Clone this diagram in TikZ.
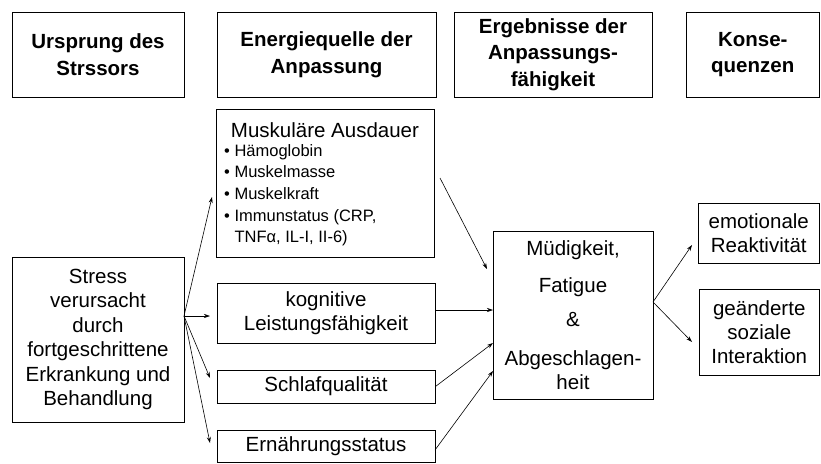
\documentclass[tikz,border=0pt]{standalone}
\usepackage{fontspec}
\setmainfont{Liberation Sans}
\usetikzlibrary{arrows.meta}
\begin{document}
\begin{tikzpicture}[x=1pt,y=-1pt,
  box/.style={draw, line width=0.9pt, inner sep=0pt, align=center},
  hdr/.style={box, minimum height=85pt, font=\bfseries\fontsize{20.5}{26.5}\selectfont},
  body/.style={font=\fontsize{20.5}{24.5}\selectfont},
  arr/.style={-{Stealth[length=6pt,width=4pt]}, line width=0.6pt}]
\useasboundingbox (0,0) rectangle (821,463);
% headers
\node[hdr, minimum width=172pt] (h1) at (98,54.5) {Ursprung des\\Strssors};
\node[hdr, minimum width=219pt] (h2) at (326.5,54.5) {Energiequelle der\\Anpassung};
\node[hdr, minimum width=198pt] (h3) at (553,54.5) {Ergebnisse der\\Anpassungs-\\fähigkeit};
\node[hdr, minimum width=133.5pt] (h4) at (752.75,54.5) {Konse-\\quenzen};
% body boxes
\node[box, body, minimum width=172pt, minimum height=165pt] (stress) at (98,339.5)
  {Stress\\verursacht\\durch\\fortgeschrittene\\Erkrankung und\\Behandlung};
\node[box, minimum width=218pt, minimum height=148pt] (musk) at (325,183) {};
\node[body, inner sep=0pt] (muskT) at (325,130) {Muskuläre Ausdauer};
\node[anchor=north west, inner sep=0pt, align=left, font=\fontsize{16.5}{21.7}\selectfont] (muskL) at (224,144)
  {• Hämoglobin\\• Muskelmasse\\• Muskelkraft\\• Immunstatus (CRP,\\\phantom{•}~TNFα, IL-I, II-6)};
\node[box, body, minimum width=218pt, minimum height=60pt] (kog) at (326,313) {kognitive\\Leistungsfähigkeit};
\node[box, body, minimum width=218pt, minimum height=33pt] (schlaf) at (326,386.5) {Schlafqualität};
\node[box, body, minimum width=218pt, minimum height=32pt] (ern) at (326,446) {Ernährungsstatus};
\node[box, font=\fontsize{20.5}{23.5}\selectfont, minimum width=160pt, minimum height=168pt] (mued) at (573,315)
  {Müdigkeit,\\[14pt]Fatigue\\[10pt]\&\\[16pt]Abgeschlagen-\\heit};
\node[box, font=\fontsize{20.5}{23.5}\selectfont, minimum width=121.5pt, minimum height=60pt] (emo) at (758.75,233) {emotionale\\Reaktivität};
\node[box, font=\fontsize{20.5}{24}\selectfont, minimum width=120.5pt, minimum height=86pt] (soz) at (759.25,332) {geänderte\\soziale\\Interaktion};
% connector points
\coordinate (s0) at (184,316);
\coordinate (tM) at (212,197);
\coordinate (tK) at (210,316);
\coordinate (tS) at (210,378);
\coordinate (tE) at (210,443);
\coordinate (mS) at (440,178);
\coordinate (mT) at (487,269);
\coordinate (kS) at (435,310);
\coordinate (kT) at (493,310);
\coordinate (sT) at (493,343);
\coordinate (eS) at (435,450);
\coordinate (eT) at (493,371);
\coordinate (q0) at (653,302);
\coordinate (qE) at (692,245);
\coordinate (qS) at (692,342);
% arrows
\draw[arr] (s0) -- (tM);
\draw[arr] (s0) -- (tK);
\draw[arr] (s0) -- (tS);
\draw[arr] (s0) -- (tE);
\draw[arr] (mS) -- (mT);
\draw[arr] (kS) -- (kT);
\draw[arr] (schlaf.east) -- (sT);
\draw[arr] (eS) -- (eT);
\draw[arr] (q0) -- (qE);
\draw[arr] (q0) -- (qS);
\end{tikzpicture}
\end{document}
